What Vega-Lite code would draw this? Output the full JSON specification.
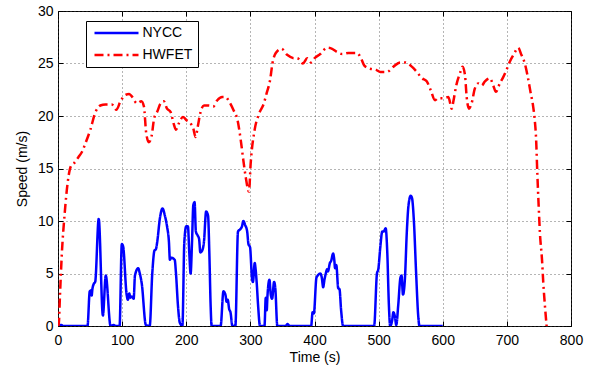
{
  "$schema": "https://vega.github.io/schema/vega-lite/v6.json",
  "width": 513,
  "height": 315,
  "autosize": "none",
  "padding": {"left": 58, "top": 11, "right": 20, "bottom": 41},
  "background": "white",
  "config": {
    "font": "Liberation Sans",
    "view": {"stroke": "black", "strokeWidth": 1},
    "axis": {
      "labelFont": "Liberation Sans",
      "titleFont": "Liberation Sans",
      "labelFontSize": 14,
      "titleFontSize": 14,
      "titleFontWeight": "normal",
      "labelColor": "black",
      "titleColor": "black",
      "domainColor": "black",
      "tickColor": "black",
      "gridColor": "#444",
      "gridDash": [1, 3],
      "gridWidth": 0.8,
      "labelFlush": false
    },
    "legend": {
      "orient": "none",
      "legendX": 28,
      "legendY": 10,
      "strokeColor": "black",
      "fillColor": "white",
      "padding": 5,
      "symbolType": "M-4,0H4",
      "symbolSize": 121,
      "symbolStrokeWidth": 2.5,
      "symbolOffset": 18.5,
      "labelOffset": 19,
      "labelFont": "Liberation Sans",
      "labelFontSize": 14,
      "labelColor": "black",
      "rowPadding": 8
    }
  },
  "datasets": {
    "cycles": [
      {"series": "NYCC", "t": 0, "v": 0}, {"series": "NYCC", "t": 5, "v": 0.1}, {"series": "NYCC", "t": 8, "v": 0}, {"series": "NYCC", "t": 46, "v": 0},
      {"series": "NYCC", "t": 49.5, "v": 3.3}, {"series": "NYCC", "t": 51.5, "v": 3.4}, {"series": "NYCC", "t": 52.5, "v": 2.9}, {"series": "NYCC", "t": 53.6, "v": 3.5},
      {"series": "NYCC", "t": 55.7, "v": 4.0}, {"series": "NYCC", "t": 58, "v": 4.2}, {"series": "NYCC", "t": 63.5, "v": 10.2}, {"series": "NYCC", "t": 70, "v": 1.0},
      {"series": "NYCC", "t": 74.5, "v": 4.8}, {"series": "NYCC", "t": 82, "v": 0}, {"series": "NYCC", "t": 87, "v": 0.1}, {"series": "NYCC", "t": 90, "v": 0},
      {"series": "NYCC", "t": 96, "v": 0}, {"series": "NYCC", "t": 99.5, "v": 7.8}, {"series": "NYCC", "t": 101.5, "v": 7.6}, {"series": "NYCC", "t": 107, "v": 3.0},
      {"series": "NYCC", "t": 109, "v": 2.5}, {"series": "NYCC", "t": 111, "v": 3.1}, {"series": "NYCC", "t": 113, "v": 2.7}, {"series": "NYCC", "t": 115, "v": 2.8},
      {"series": "NYCC", "t": 118, "v": 2.6}, {"series": "NYCC", "t": 120, "v": 4.8}, {"series": "NYCC", "t": 125, "v": 5.5}, {"series": "NYCC", "t": 127.6, "v": 5.0},
      {"series": "NYCC", "t": 130.7, "v": 4.0}, {"series": "NYCC", "t": 137, "v": 0.1}, {"series": "NYCC", "t": 143, "v": 0}, {"series": "NYCC", "t": 147, "v": 5.0},
      {"series": "NYCC", "t": 150.5, "v": 7.2}, {"series": "NYCC", "t": 152.6, "v": 7.3}, {"series": "NYCC", "t": 154.7, "v": 8.0}, {"series": "NYCC", "t": 159, "v": 10.3},
      {"series": "NYCC", "t": 163, "v": 11.2}, {"series": "NYCC", "t": 166.7, "v": 10.5}, {"series": "NYCC", "t": 170, "v": 9.5}, {"series": "NYCC", "t": 173, "v": 8.0},
      {"series": "NYCC", "t": 174.5, "v": 6.3}, {"series": "NYCC", "t": 176.5, "v": 6.5}, {"series": "NYCC", "t": 182, "v": 6.3}, {"series": "NYCC", "t": 184, "v": 5.0},
      {"series": "NYCC", "t": 187, "v": 2.0}, {"series": "NYCC", "t": 190, "v": 0.3}, {"series": "NYCC", "t": 194, "v": 0}, {"series": "NYCC", "t": 197, "v": 8.0},
      {"series": "NYCC", "t": 200, "v": 9.5}, {"series": "NYCC", "t": 202.6, "v": 9.5}, {"series": "NYCC", "t": 204.7, "v": 7.0}, {"series": "NYCC", "t": 206.8, "v": 5.0},
      {"series": "NYCC", "t": 209, "v": 8.0}, {"series": "NYCC", "t": 211, "v": 11.5}, {"series": "NYCC", "t": 213, "v": 11.8}, {"series": "NYCC", "t": 215, "v": 9.0},
      {"series": "NYCC", "t": 218, "v": 8.6}, {"series": "NYCC", "t": 220, "v": 8.3}, {"series": "NYCC", "t": 222, "v": 7.0}, {"series": "NYCC", "t": 225, "v": 7.2},
      {"series": "NYCC", "t": 227.6, "v": 8.0}, {"series": "NYCC", "t": 231, "v": 10.9}, {"series": "NYCC", "t": 234, "v": 10.5}, {"series": "NYCC", "t": 236, "v": 7.0},
      {"series": "NYCC", "t": 238, "v": 2.0}, {"series": "NYCC", "t": 239.6, "v": 0}, {"series": "NYCC", "t": 253.6, "v": 0}, {"series": "NYCC", "t": 258, "v": 3.3},
      {"series": "NYCC", "t": 261, "v": 3.0}, {"series": "NYCC", "t": 263, "v": 2.3}, {"series": "NYCC", "t": 264.6, "v": 2.5}, {"series": "NYCC", "t": 267, "v": 1.6},
      {"series": "NYCC", "t": 269, "v": 1.3}, {"series": "NYCC", "t": 272, "v": 0}, {"series": "NYCC", "t": 276.6, "v": 0}, {"series": "NYCC", "t": 280.7, "v": 9.0},
      {"series": "NYCC", "t": 284, "v": 9.2}, {"series": "NYCC", "t": 287, "v": 9.5}, {"series": "NYCC", "t": 289, "v": 10.0}, {"series": "NYCC", "t": 292, "v": 9.6},
      {"series": "NYCC", "t": 295, "v": 9.0}, {"series": "NYCC", "t": 297, "v": 7.8}, {"series": "NYCC", "t": 299.5, "v": 7.5}, {"series": "NYCC", "t": 302.6, "v": 4.5},
      {"series": "NYCC", "t": 304, "v": 4.2}, {"series": "NYCC", "t": 306.8, "v": 6.0}, {"series": "NYCC", "t": 308, "v": 5.5}, {"series": "NYCC", "t": 310, "v": 4.0},
      {"series": "NYCC", "t": 312, "v": 2.0}, {"series": "NYCC", "t": 315, "v": 0}, {"series": "NYCC", "t": 322, "v": 0}, {"series": "NYCC", "t": 324, "v": 2.7},
      {"series": "NYCC", "t": 325.5, "v": 1.5}, {"series": "NYCC", "t": 326.6, "v": 2.8}, {"series": "NYCC", "t": 329.7, "v": 4.4}, {"series": "NYCC", "t": 331.8, "v": 3.0},
      {"series": "NYCC", "t": 333.9, "v": 2.6}, {"series": "NYCC", "t": 337, "v": 4.2}, {"series": "NYCC", "t": 339, "v": 3.5}, {"series": "NYCC", "t": 342, "v": 0},
      {"series": "NYCC", "t": 355, "v": 0}, {"series": "NYCC", "t": 358, "v": 0.2}, {"series": "NYCC", "t": 361, "v": 0}, {"series": "NYCC", "t": 394.8, "v": 0},
      {"series": "NYCC", "t": 397, "v": 1.3}, {"series": "NYCC", "t": 399, "v": 1.2}, {"series": "NYCC", "t": 403, "v": 4.6}, {"series": "NYCC", "t": 405, "v": 4.8},
      {"series": "NYCC", "t": 409, "v": 5.0}, {"series": "NYCC", "t": 411.4, "v": 4.6}, {"series": "NYCC", "t": 413.5, "v": 3.7}, {"series": "NYCC", "t": 415.5, "v": 4.4},
      {"series": "NYCC", "t": 417.6, "v": 5.0}, {"series": "NYCC", "t": 419.7, "v": 5.4}, {"series": "NYCC", "t": 421, "v": 5.2}, {"series": "NYCC", "t": 424, "v": 6.0},
      {"series": "NYCC", "t": 426, "v": 6.2}, {"series": "NYCC", "t": 429, "v": 6.9}, {"series": "NYCC", "t": 431, "v": 6.2}, {"series": "NYCC", "t": 432, "v": 5.5},
      {"series": "NYCC", "t": 434, "v": 5.8}, {"series": "NYCC", "t": 437, "v": 3.6}, {"series": "NYCC", "t": 439, "v": 3.5}, {"series": "NYCC", "t": 441.5, "v": 1.5},
      {"series": "NYCC", "t": 444.6, "v": 0}, {"series": "NYCC", "t": 493, "v": 0}, {"series": "NYCC", "t": 497.4, "v": 5.0}, {"series": "NYCC", "t": 499.5, "v": 5.4},
      {"series": "NYCC", "t": 502.6, "v": 7.5}, {"series": "NYCC", "t": 505.7, "v": 9.0}, {"series": "NYCC", "t": 507.8, "v": 9.0}, {"series": "NYCC", "t": 511, "v": 9.3},
      {"series": "NYCC", "t": 513.5, "v": 7.0}, {"series": "NYCC", "t": 516, "v": 2.0}, {"series": "NYCC", "t": 518, "v": 0}, {"series": "NYCC", "t": 521, "v": 0.5},
      {"series": "NYCC", "t": 523, "v": 1.3}, {"series": "NYCC", "t": 525.4, "v": 0.9}, {"series": "NYCC", "t": 527.5, "v": 0.1}, {"series": "NYCC", "t": 530.6, "v": 2.0},
      {"series": "NYCC", "t": 534, "v": 4.6}, {"series": "NYCC", "t": 535.7, "v": 4.8}, {"series": "NYCC", "t": 538, "v": 3.0}, {"series": "NYCC", "t": 541, "v": 4.5},
      {"series": "NYCC", "t": 544, "v": 9.0}, {"series": "NYCC", "t": 546.6, "v": 11.5}, {"series": "NYCC", "t": 550, "v": 12.4}, {"series": "NYCC", "t": 552, "v": 12.2},
      {"series": "NYCC", "t": 555, "v": 10.0}, {"series": "NYCC", "t": 558.5, "v": 5.0}, {"series": "NYCC", "t": 561.7, "v": 1.0}, {"series": "NYCC", "t": 563.7, "v": 0},
      {"series": "NYCC", "t": 600, "v": 0},
      {"series": "HWFET", "t": 0, "v": 0}, {"series": "HWFET", "t": 1, "v": 0}, {"series": "HWFET", "t": 3, "v": 2.8}, {"series": "HWFET", "t": 6, "v": 6.9},
      {"series": "HWFET", "t": 10.4, "v": 10.7}, {"series": "HWFET", "t": 15.6, "v": 13.9}, {"series": "HWFET", "t": 20, "v": 15.2}, {"series": "HWFET", "t": 25, "v": 15.5},
      {"series": "HWFET", "t": 32, "v": 16.1}, {"series": "HWFET", "t": 37.5, "v": 16.6}, {"series": "HWFET", "t": 44, "v": 17.6}, {"series": "HWFET", "t": 50.5, "v": 18.7},
      {"series": "HWFET", "t": 58, "v": 20.3}, {"series": "HWFET", "t": 66, "v": 21.0}, {"series": "HWFET", "t": 74, "v": 21.1}, {"series": "HWFET", "t": 84, "v": 21.1},
      {"series": "HWFET", "t": 91, "v": 20.6}, {"series": "HWFET", "t": 97.4, "v": 21.4}, {"series": "HWFET", "t": 105, "v": 22.0}, {"series": "HWFET", "t": 111, "v": 22.1},
      {"series": "HWFET", "t": 116, "v": 21.8}, {"series": "HWFET", "t": 123, "v": 21.2}, {"series": "HWFET", "t": 130, "v": 21.4}, {"series": "HWFET", "t": 134, "v": 20.9},
      {"series": "HWFET", "t": 137.5, "v": 18.4}, {"series": "HWFET", "t": 141.7, "v": 17.5}, {"series": "HWFET", "t": 146, "v": 18.1}, {"series": "HWFET", "t": 150, "v": 19.8},
      {"series": "HWFET", "t": 154.7, "v": 20.4}, {"series": "HWFET", "t": 160, "v": 21.2}, {"series": "HWFET", "t": 165, "v": 21.4}, {"series": "HWFET", "t": 170, "v": 20.7},
      {"series": "HWFET", "t": 175.5, "v": 20.4}, {"series": "HWFET", "t": 180.7, "v": 19.2}, {"series": "HWFET", "t": 184, "v": 18.7}, {"series": "HWFET", "t": 188.5, "v": 19.3},
      {"series": "HWFET", "t": 194.8, "v": 19.9}, {"series": "HWFET", "t": 200.5, "v": 19.6}, {"series": "HWFET", "t": 206.8, "v": 19.3}, {"series": "HWFET", "t": 211, "v": 18.8},
      {"series": "HWFET", "t": 214.6, "v": 18.0}, {"series": "HWFET", "t": 218, "v": 19.0}, {"series": "HWFET", "t": 222, "v": 20.3}, {"series": "HWFET", "t": 227.6, "v": 21.0},
      {"series": "HWFET", "t": 235.4, "v": 21.0}, {"series": "HWFET", "t": 242, "v": 20.9}, {"series": "HWFET", "t": 248.4, "v": 21.5}, {"series": "HWFET", "t": 256, "v": 21.8},
      {"series": "HWFET", "t": 261.5, "v": 21.8}, {"series": "HWFET", "t": 266.7, "v": 21.4}, {"series": "HWFET", "t": 273.4, "v": 20.6}, {"series": "HWFET", "t": 280, "v": 19.6},
      {"series": "HWFET", "t": 285, "v": 17.7}, {"series": "HWFET", "t": 289, "v": 15.8}, {"series": "HWFET", "t": 292.7, "v": 14.2}, {"series": "HWFET", "t": 297.8, "v": 12.8},
      {"series": "HWFET", "t": 300.5, "v": 15.5}, {"series": "HWFET", "t": 306.7, "v": 18.7}, {"series": "HWFET", "t": 313.4, "v": 20.2}, {"series": "HWFET", "t": 321, "v": 21.2},
      {"series": "HWFET", "t": 325.5, "v": 22.2}, {"series": "HWFET", "t": 330.7, "v": 23.4}, {"series": "HWFET", "t": 334.4, "v": 25.0}, {"series": "HWFET", "t": 339.6, "v": 26.0},
      {"series": "HWFET", "t": 348.4, "v": 26.4}, {"series": "HWFET", "t": 357.8, "v": 25.8}, {"series": "HWFET", "t": 368, "v": 25.5}, {"series": "HWFET", "t": 373, "v": 25.5},
      {"series": "HWFET", "t": 382, "v": 25.0}, {"series": "HWFET", "t": 388.6, "v": 25.5}, {"series": "HWFET", "t": 395, "v": 25.1}, {"series": "HWFET", "t": 400, "v": 25.5},
      {"series": "HWFET", "t": 409, "v": 25.9}, {"series": "HWFET", "t": 419.7, "v": 26.5}, {"series": "HWFET", "t": 427.5, "v": 26.4}, {"series": "HWFET", "t": 435, "v": 26.1},
      {"series": "HWFET", "t": 443, "v": 25.9}, {"series": "HWFET", "t": 453, "v": 26.0}, {"series": "HWFET", "t": 466, "v": 26.0}, {"series": "HWFET", "t": 472.5, "v": 25.5},
      {"series": "HWFET", "t": 477.7, "v": 24.8}, {"series": "HWFET", "t": 487, "v": 24.5}, {"series": "HWFET", "t": 496, "v": 24.4}, {"series": "HWFET", "t": 502.6, "v": 24.2},
      {"series": "HWFET", "t": 513, "v": 24.2}, {"series": "HWFET", "t": 523, "v": 24.7}, {"series": "HWFET", "t": 533.7, "v": 25.1}, {"series": "HWFET", "t": 541.5, "v": 25.1},
      {"series": "HWFET", "t": 551.8, "v": 24.7}, {"series": "HWFET", "t": 559.6, "v": 24.2}, {"series": "HWFET", "t": 567.4, "v": 23.6}, {"series": "HWFET", "t": 575, "v": 23.3},
      {"series": "HWFET", "t": 581, "v": 22.5}, {"series": "HWFET", "t": 588, "v": 21.5}, {"series": "HWFET", "t": 593, "v": 21.7}, {"series": "HWFET", "t": 601, "v": 21.7},
      {"series": "HWFET", "t": 608.8, "v": 21.8}, {"series": "HWFET", "t": 614, "v": 20.7}, {"series": "HWFET", "t": 616.6, "v": 21.4}, {"series": "HWFET", "t": 620.7, "v": 22.8},
      {"series": "HWFET", "t": 627, "v": 24.1}, {"series": "HWFET", "t": 631, "v": 24.7}, {"series": "HWFET", "t": 634.7, "v": 23.9}, {"series": "HWFET", "t": 637.3, "v": 21.8},
      {"series": "HWFET", "t": 641, "v": 20.7}, {"series": "HWFET", "t": 645, "v": 21.2}, {"series": "HWFET", "t": 650, "v": 22.6}, {"series": "HWFET", "t": 655.4, "v": 23.1},
      {"series": "HWFET", "t": 660.6, "v": 22.9}, {"series": "HWFET", "t": 665.8, "v": 23.3}, {"series": "HWFET", "t": 673.6, "v": 23.6}, {"series": "HWFET", "t": 678.8, "v": 22.9},
      {"series": "HWFET", "t": 682.9, "v": 22.3}, {"series": "HWFET", "t": 689, "v": 23.1}, {"series": "HWFET", "t": 694.3, "v": 23.7}, {"series": "HWFET", "t": 699.5, "v": 24.4},
      {"series": "HWFET", "t": 704.7, "v": 25.2}, {"series": "HWFET", "t": 711, "v": 25.9}, {"series": "HWFET", "t": 717.6, "v": 26.5}, {"series": "HWFET", "t": 722.8, "v": 25.8},
      {"series": "HWFET", "t": 728, "v": 25.0}, {"series": "HWFET", "t": 733, "v": 23.6}, {"series": "HWFET", "t": 736.8, "v": 22.3}, {"series": "HWFET", "t": 741, "v": 20.9},
      {"series": "HWFET", "t": 743.5, "v": 19.6}, {"series": "HWFET", "t": 745.5, "v": 17.9}, {"series": "HWFET", "t": 747.5, "v": 14.5}, {"series": "HWFET", "t": 749.6, "v": 11.4},
      {"series": "HWFET", "t": 751.6, "v": 8.8}, {"series": "HWFET", "t": 754.8, "v": 6.3}, {"series": "HWFET", "t": 756.8, "v": 4.1}, {"series": "HWFET", "t": 759.5, "v": 1.8},
      {"series": "HWFET", "t": 762, "v": 0}
    ]
  },
  "data": {"name": "cycles"},
  "layer": [
    {
      "mark": {"type": "line", "strokeWidth": 2.5, "interpolate": "monotone", "clip": true},
      "encoding": {
        "x": {"field": "t", "type": "quantitative", "scale": {"domain": [0, 800], "nice": false, "zero": false},
          "axis": {"title": "Time (s)", "values": [0, 100, 200, 300, 400, 500, 600, 700, 800], "grid": true, "tickSize": -5, "labelPadding": 12, "titlePadding": 3, "domain": false}},
        "y": {"field": "v", "type": "quantitative", "scale": {"domain": [0, 30], "nice": false},
          "axis": {"title": "Speed (m/s)", "values": [0, 5, 10, 15, 20, 25, 30], "grid": true, "tickSize": -5, "labelPadding": 10, "titlePadding": 8, "domain": false}},
        "color": {"field": "series", "type": "nominal", "title": null,
          "scale": {"domain": ["NYCC", "HWFET"], "range": ["#0000ff", "#ff0000"]}},
        "strokeDash": {"field": "series", "type": "nominal", "title": null,
          "scale": {"domain": ["NYCC", "HWFET"], "range": [[1, 0], [9, 4, 2, 4]]}},
        "order": {"field": "t", "type": "quantitative"}
      }
    },
    {
      "mark": {"type": "point", "opacity": 0},
      "encoding": {
        "x": {"field": "t", "type": "quantitative",
          "axis": {"orient": "top", "title": null, "labels": false, "grid": false, "domain": false, "values": [0, 100, 200, 300, 400, 500, 600, 700, 800], "tickSize": -5}},
        "y": {"field": "v", "type": "quantitative",
          "axis": {"orient": "right", "title": null, "labels": false, "grid": false, "domain": false, "values": [0, 5, 10, 15, 20, 25, 30], "tickSize": -5}}
      }
    }
  ],
  "resolve": {"axis": {"x": "independent", "y": "independent"}}
}
